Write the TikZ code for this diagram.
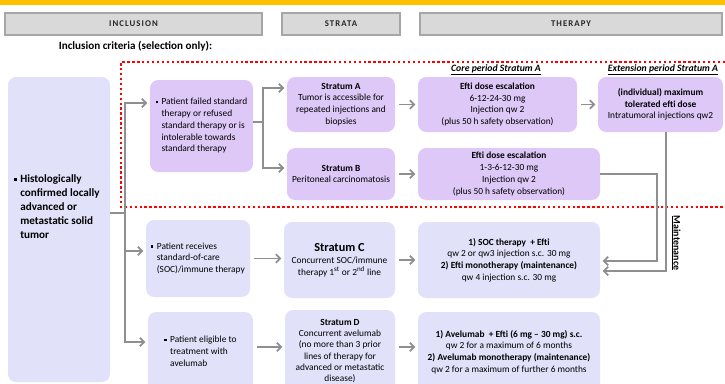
\documentclass[tikz,border=0pt]{standalone}
\usepackage{fontspec}
\setmainfont{Carlito}
\usepackage{tikz}
\usetikzlibrary{arrows.meta,positioning}
\definecolor{yelx}{HTML}{FFC000}
\definecolor{lilx}{HTML}{DEC8F7}
\definecolor{lavx}{HTML}{E1E1FA}
\definecolor{grayx}{HTML}{8F8F8F}
\definecolor{hdrx}{HTML}{D9D9D9}
\definecolor{redx}{HTML}{FF0000}
\newcommand\bul[1]{\begin{tabular}{@{}l@{\hspace{3pt}}l@{}}\rule[.35ex]{.5ex}{.5ex}&#1\end{tabular}}
\tikzset{
  sz/.style 2 args={minimum width=#1*0.03cm,minimum height=#2*0.03cm},
  hdr/.style={draw=gray!70,line width=1pt,fill=hdrx,text=black!85,font=\fontsize{7.5}{8}\selectfont\bfseries\addfontfeatures{LetterSpace=12}},
  lil/.style={fill=lilx,rounded corners=7pt,align=center,inner sep=2pt,font=\fontsize{8}{10}\selectfont},
  lav/.style={fill=lavx,rounded corners=7pt,align=center,inner sep=2pt,font=\fontsize{8}{10}\selectfont},
  per/.style={font=\fontsize{8.3}{9}\selectfont\bfseries\itshape},
  ln/.style={grayx,line width=1.5pt},
  ar/.style={ln,-{Straight Barb[length=1.3mm,width=2.6mm]},shorten >=2pt}
}

\begin{document}
\begin{tikzpicture}[x=0.03cm,y=-0.03cm]
\useasboundingbox (0,0) rectangle (725,383);
\clip (0,0) rectangle (725,383);
\fill[yelx] (0,0) rectangle (725,5);
\node[hdr,sz={257}{22}] (hinc) at (133.5,24) {INCLUSION};
\node[hdr,sz={118}{22}] (hstr) at (341,24) {STRATA};
\node[hdr,sz={302}{22}] (hthe) at (571,24) {THERAPY};
\node[font=\fontsize{9.5}{10}\selectfont\bfseries] (crit) at (135.5,46) {Inclusion criteria (selection only):};
\draw[redx,line width=2pt,dash pattern=on 2pt off 2.2pt] (730,62) -- (121,62) -- (121,207) -- (730,207);
\node[lav,sz={102}{305}] (tum) at (59,229.5) {};
\node[anchor=west,align=left,font=\fontsize{9.5}{12}\selectfont\bfseries] (tumt) at (10,208) {\bul{Histologically\\&confirmed locally\\&advanced or\\&metastatic solid\\&tumor}};
\node[lil,sz={103}{92}] (pfail) at (201.5,126) {\bul{Patient failed standard\\&therapy or refused\\&standard therapy or is\\&intolerable towards\\&standard therapy}};
\node[lil,sz={108}{55}] (stA) at (341,104.5) {\textbf{Stratum A}\\Tumor is accessible for\\repeated injections and\\biopsies};
\node[lil,sz={108}{52}] (stB) at (341,174) {\textbf{Stratum B}\\Peritoneal carcinomatosis};
\node[per] (cpA) at (496,70) {\underline{Core period Stratum A}};
\node[per] (epA) at (663,70) {\underline{Extension period Stratum A}};
\node[lil,sz={159}{55}] (eftA) at (497.5,104.5) {\textbf{Efti dose escalation}\\6-12-24-30 mg\\Injection qw 2\\(plus 50 h safety observation)};
\node[lil,sz={182}{52}] (eftB) at (509,174) {\textbf{Efti dose escalation}\\1-3-6-12-30 mg\\Injection qw 2\\(plus 50 h safety observation)};
\node[lil,sz={125}{55}] (ext) at (660.5,104.5) {\textbf{(individual) maximum}\\\textbf{tolerated efti dose}\\Intratumoral injections qw2};
\node[lav,sz={104}{77}] (prec) at (198,258.5) {\bul{Patient receives\\&standard-of-care\\&(SOC)/immune therapy}};
\node[lav,sz={111}{76}] (stC) at (339.5,260) {{\fontsize{10.5}{13}\selectfont\bfseries Stratum C}\\Concurrent SOC/immune\\therapy 1\textsuperscript{st} or 2\textsuperscript{nd} line};
\node[lav,sz={182}{76}] (soc) at (509,260) {\textbf{1) SOC therapy~ + Efti}\\qw 2 or qw3 injection s.c. 30 mg\\\textbf{2) Efti monotherapy (maintenance)}\\qw 4 injection s.c. 30 mg};
\node[lav,sz={105}{80}] (pelig) at (200.5,352) {\bul{Patient eligible to\\&treatment with\\&avelumab}};
\node[lav,sz={110}{82},font=\fontsize{8}{9.7}\selectfont] (stD) at (340,351) {\textbf{Stratum D}\\Concurrent avelumab\\(no more than 3 prior\\lines of therapy for\\advanced or metastatic\\disease)};
\node[lav,sz={182}{80}] (avl) at (509,352) {\textbf{1) Avelumab~ + Efti (6 mg -- 30 mg) s.c.}\\qw 2 for a maximum of 6 months\\\textbf{2) Avelumab monotherapy (maintenance)}\\qw 2 for a maximum of further 6 months};
\coordinate (tj) at (125,213);
\coordinate (t1) at (125,103);
\coordinate (t2) at (125,342);
\coordinate (t3) at (125,251);
\draw[ln] (tum.east |- tj) -- (tj);
\draw[ar] (tj) -- (t1) -- (pfail.west |- t1);
\draw[ar] (tj) -- (t2) -- (pelig.west |- t2);
\draw[ar] (t3) -- (prec.west |- t3);
\coordinate (sj) at (263,122);
\coordinate (sa) at (263,88);
\coordinate (sb) at (263,168);
\draw[ln] (pfail.east |- sj) -- (sj);
\draw[ar] (sj) -- (sa) -- (stA.west |- sa);
\draw[ar] (sj) -- (sb) -- (stB.west |- sb);
\draw[ar,shorten <=3pt] (stA) -- (eftA);
\draw[ar,shorten <=3pt] (eftA) -- (ext);
\draw[ar,shorten <=3pt] (stB) -- (eftB);
\draw[ar,shorten <=3pt] (prec.east) -- (stC.west |- prec.east);
\draw[ar,shorten <=3pt] (stC) -- (soc);
\coordinate (rd) at (0,347);
\draw[ar,shorten <=3pt] (pelig.east |- rd) -- (stD.west |- rd);
\draw[ar,shorten <=3pt] (stD.east |- rd) -- (avl.west |- rd);
\coordinate (ma) at (657,261);
\coordinate (mb) at (666,271);
\draw[ar] (eftB.east) -| (ma) -- (soc.east |- ma);
\draw[ar] (ext.south -| mb) -- (mb) -- (soc.east |- mb);
\node[rotate=-90,font=\fontsize{8.5}{9}\selectfont\bfseries] (mlab) at (676,243) {\underline{Maintenance}};
\end{tikzpicture}
\end{document}
